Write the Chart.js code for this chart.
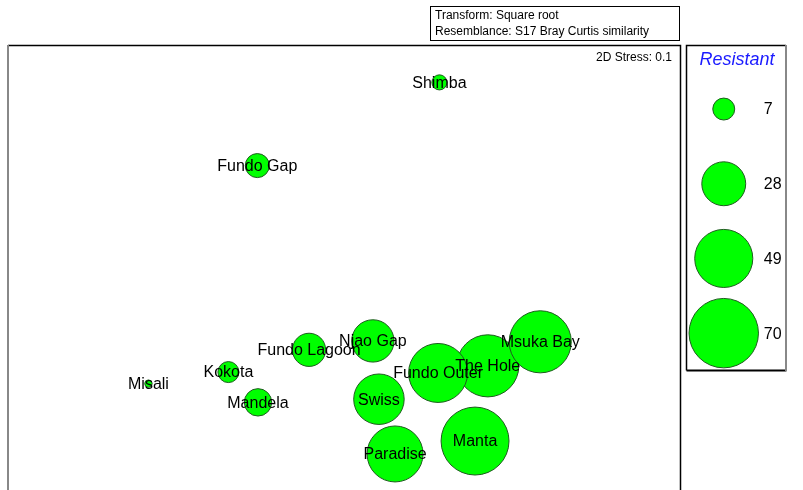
<!DOCTYPE html>
<html>
<head>
<meta charset="utf-8">
<script src="https://cdn.jsdelivr.net/npm/chart.js@4"></script>
<style>
  body { margin: 0; background: #fff; font-family: "Liberation Sans", Arial, sans-serif; }
  #wrap { position: relative; width: 803px; height: 490px; overflow: hidden; }
  #main { position: absolute; left: 0; top: 0; }
  #key { position: absolute; left: 687px; top: 46px; }
  #info {
    position: absolute; left: 430px; top: 6px; width: 244px; height: 33px;
    border: 1px solid #000; font-size: 12px; line-height: 16px; padding: 0 0 0 4px; color: #000;
  }
</style>
</head>
<body>
<div id="wrap">
  <canvas id="main" width="803" height="490"></canvas>
  <canvas id="key" width="98" height="323"></canvas>
  <div id="info">Transform: Square root<br>Resemblance: S17 Bray Curtis similarity</div>
</div>
<script>
// nMDS site positions (scaled plot units) and resistant coral abundance
const sites = ['Shimba', 'Fundo Gap', 'Misali', 'Kokota', 'Mandela', 'Fundo Lagoon', 'Njao Gap',
  'The Hole', 'Fundo Outer', 'Msuka Bay', 'Swiss', 'Paradise', 'Manta'];
const xPos = [64.2, 37.1, 20.9, 32.8, 37.2, 44.8, 54.3, 71.4, 64.0, 79.2, 55.2, 57.6, 69.5];
const yPos = [91.6, 72.9, 23.9, 26.5, 19.7, 31.5, 33.5, 27.9, 26.3, 33.3, 20.4, 8.1, 11.0];
const resistant = [3.3, 8.4, 0.8, 6.4, 10.9, 16, 26, 56, 50.5, 56, 37, 45.5, 67];

const keyValues = [7, 28, 49, 70];
const stressText = '2D Stress: 0.1';

const bubbleR = v => 4.15 * Math.sqrt(v);
const green = '#00ff00';
const edge = '#1f5c1f';
const labelFont = '16px "Liberation Sans", Arial, sans-serif';

// bubble controller that doesn't pad the chart area by the largest radius
class PlotBubble extends Chart.BubbleController {
  getMaxOverflow() { return 0; }
}
PlotBubble.id = 'plotBubble';
PlotBubble.defaults = Chart.BubbleController.defaults;
PlotBubble.overrides = Chart.BubbleController.overrides;
Chart.register(PlotBubble);

// site names on top of the bubbles
const siteLabels = {
  id: 'siteLabels',
  afterDatasetsDraw(chart) {
    const ctx = chart.ctx;
    const meta = chart.getDatasetMeta(0);
    ctx.save();
    ctx.font = labelFont;
    ctx.fillStyle = '#000';
    ctx.textAlign = 'center';
    ctx.textBaseline = 'middle';
    meta.data.forEach((pt, i) => {
      ctx.fillText(sites[i], pt.x, pt.y + 1);
    });
    ctx.font = '12px "Liberation Sans", Arial, sans-serif';
    ctx.textAlign = 'right';
    ctx.fillText(stressText, 672, 58);
    ctx.restore();
  }
};

// frames for plot and key
const frames = {
  id: 'frames',
  beforeDraw(chart) {
    const ctx = chart.ctx;
    ctx.save();
    ctx.fillStyle = '#fff';
    ctx.fillRect(0, 0, chart.width, chart.height);
    ctx.lineWidth = 1.5;
    ctx.strokeStyle = '#000';
    ctx.beginPath();
    ctx.moveTo(8, 45.5); ctx.lineTo(680.5, 45.5); ctx.lineTo(680.5, 490);
    ctx.stroke();
    ctx.strokeStyle = '#888';
    ctx.lineWidth = 2;
    ctx.beginPath();
    ctx.moveTo(8, 45); ctx.lineTo(8, 490);
    ctx.stroke();
    // key box
    ctx.strokeStyle = '#000';
    ctx.lineWidth = 1.5;
    ctx.beginPath();
    ctx.moveTo(686.5, 370.5); ctx.lineTo(686.5, 45.5); ctx.lineTo(786, 45.5);
    ctx.stroke();
    ctx.lineWidth = 2;
    ctx.beginPath();
    ctx.moveTo(686.5, 370.5); ctx.lineTo(786, 370.5);
    ctx.stroke();
    ctx.strokeStyle = '#888';
    ctx.beginPath();
    ctx.moveTo(786, 45); ctx.lineTo(786, 371.5);
    ctx.stroke();
    ctx.restore();
  }
};

new Chart(document.getElementById('main'), {
  type: 'plotBubble',
  data: {
    datasets: [{
      data: sites.map((s, i) => ({ x: xPos[i], y: yPos[i], v: resistant[i] })),
      backgroundColor: green,
      borderColor: edge,
      borderWidth: 1,
      radius: ctx => bubbleR(ctx.raw.v),
      clip: false
    }]
  },
  options: {
    responsive: false,
    animation: false,
    layout: { padding: { left: 8, top: 45, right: 123, bottom: 0 } },
    scales: {
      x: { type: 'linear', display: false, min: 0, max: 100 },
      y: { type: 'linear', display: false, min: 0, max: 100 }
    },
    plugins: { legend: { display: false }, tooltip: { enabled: false } },
    events: []
  },
  plugins: [frames, siteLabels]
});

const keyLabels = {
  id: 'keyLabels',
  afterDatasetsDraw(chart) {
    const ctx = chart.ctx;
    const meta = chart.getDatasetMeta(0);
    ctx.save();
    ctx.fillStyle = '#000';
    ctx.font = labelFont;
    ctx.textAlign = 'left';
    ctx.textBaseline = 'middle';
    meta.data.forEach((pt, i) => {
      ctx.fillText(String(keyValues[i]), pt.x + 40, pt.y + 1);
    });
    ctx.fillStyle = '#1a1aff';
    ctx.font = 'italic 18px "Liberation Sans", Arial, sans-serif';
    ctx.textAlign = 'center';
    ctx.fillText('Resistant', 50, 14);
    ctx.restore();
  }
};

new Chart(document.getElementById('key'), {
  type: 'plotBubble',
  data: {
    datasets: [{
      data: keyValues.map((v, i) => ({ x: 37.5, y: i, v: v })),
      backgroundColor: green,
      borderColor: edge,
      borderWidth: 1,
      radius: ctx => bubbleR(ctx.raw.v),
      clip: false
    }]
  },
  options: {
    responsive: false,
    animation: false,
    layout: { padding: 0 },
    scales: {
      x: { type: 'linear', display: false, min: 0, max: 100 },
      y: { type: 'linear', display: false, reverse: true, min: -0.844, max: 3.48 }
    },
    plugins: { legend: { display: false }, tooltip: { enabled: false } },
    events: []
  },
  plugins: [keyLabels]
});
</script>
</body>
</html>
